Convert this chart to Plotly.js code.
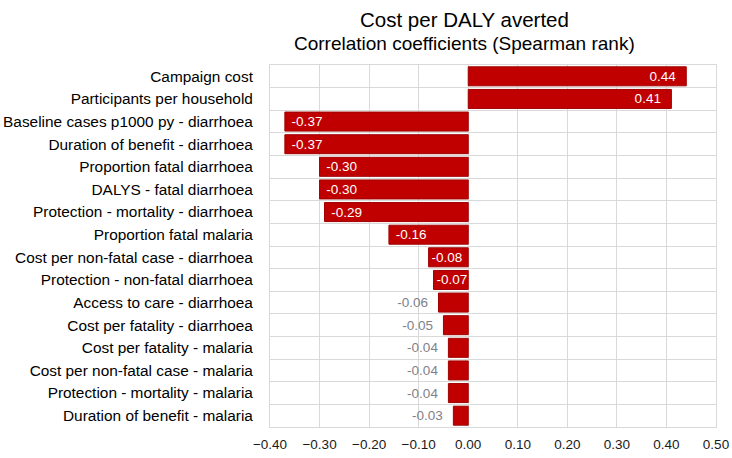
<!DOCTYPE html>
<html><head><meta charset="utf-8">
<script src="https://cdn.plot.ly/plotly-3.0.1.min.js"></script>
<style>html,body{margin:0;padding:0;background:#fff}#c{width:732px;height:458px}</style>
</head><body><div id="c"></div>
<script>
const categories = [
  "Campaign cost",
  "Participants per household",
  "Baseline cases p1000 py - diarrhoea",
  "Duration of benefit - diarrhoea",
  "Proportion fatal diarrhoea",
  "DALYS - fatal diarrhoea",
  "Protection - mortality - diarrhoea",
  "Proportion fatal malaria",
  "Cost per non-fatal case - diarrhoea",
  "Protection - non-fatal diarrhoea",
  "Access to care - diarrhoea",
  "Cost per fatality - diarrhoea",
  "Cost per fatality - malaria",
  "Cost per non-fatal case - malaria",
  "Protection - mortality - malaria",
  "Duration of benefit - malaria"
];
const values = [0.44, 0.41, -0.37, -0.37, -0.30, -0.30, -0.29, -0.16, -0.08, -0.07, -0.06, -0.05, -0.04, -0.04, -0.04, -0.03];
const xTicks = [-0.4, -0.3, -0.2, -0.1, 0, 0.1, 0.2, 0.3, 0.4, 0.5];
const titleText = "Cost per DALY averted";
const subtitleText = "Correlation coefficients (Spearman rank)";

const NB = '\u00a0';
const inside = values.map(v => Math.abs(v) >= 0.07);
const labels = values.map((v, i) => {
  const s = v.toFixed(2);
  if (!inside[i]) return s + NB + NB;
  if (Math.abs(v) < 0.1) return s;
  return v > 0 ? s + NB + NB : NB + s;
});
const trace = {
  type: 'bar', orientation: 'h',
  y: categories, x: values,
  width: 0.84,
  marker: {color: '#C00000', line: {color: '#A00000', width: 1}},
  text: labels,
  textposition: inside.map(b => b ? 'inside' : 'outside'),
  insidetextanchor: 'end',
  textfont: {family: 'Liberation Sans, Arial, sans-serif', size: 13.5, color: inside.map(b => b ? '#ffffff' : '#7f7f8a')},
  constraintext: 'none',
  cliponaxis: false,
  hoverinfo: 'none'
};

const layout = {
  width: 732, height: 458,
  margin: {l: 270, r: 16, t: 65, b: 31},
  paper_bgcolor: '#ffffff', plot_bgcolor: '#ffffff',
  showlegend: false,
  font: {family: 'Liberation Sans, Arial, sans-serif', color: '#000'},
  annotations: [
    {text: titleText, xref: 'paper', yref: 'paper', x: 0.437, y: 1, yshift: 46,
     xanchor: 'center', yanchor: 'middle', showarrow: false, font: {size: 20.5, color: '#000'}},
    {text: subtitleText, xref: 'paper', yref: 'paper', x: 0.437, y: 1, yshift: 22,
     xanchor: 'center', yanchor: 'middle', showarrow: false, font: {size: 19, color: '#000'}}
  ],
  xaxis: {
    range: [-0.4, 0.5], tickvals: xTicks, tickformat: '.2f',
    showgrid: true, gridcolor: '#d9d9d9', gridwidth: 1,
    zeroline: false,
    showline: true, linecolor: '#d9d9d9', mirror: true,
    ticks: '', ticklabelstandoff: 5,
    tickfont: {size: 13.5, color: '#1a1a1a'},
    fixedrange: true
  },
  yaxis: {
    type: 'category', autorange: 'reversed',
    tickson: 'boundaries',
    showgrid: true, gridcolor: '#d9d9d9', gridwidth: 1,
    showline: true, linecolor: '#d9d9d9', mirror: true,
    ticks: '', ticklabelstandoff: 13,
    tickfont: {size: 15.4, color: '#000'},
    fixedrange: true
  },
  bargap: 0.16
};

Plotly.newPlot('c', [trace], layout, {displayModeBar: false, staticPlot: true});
</script>
</body></html>
